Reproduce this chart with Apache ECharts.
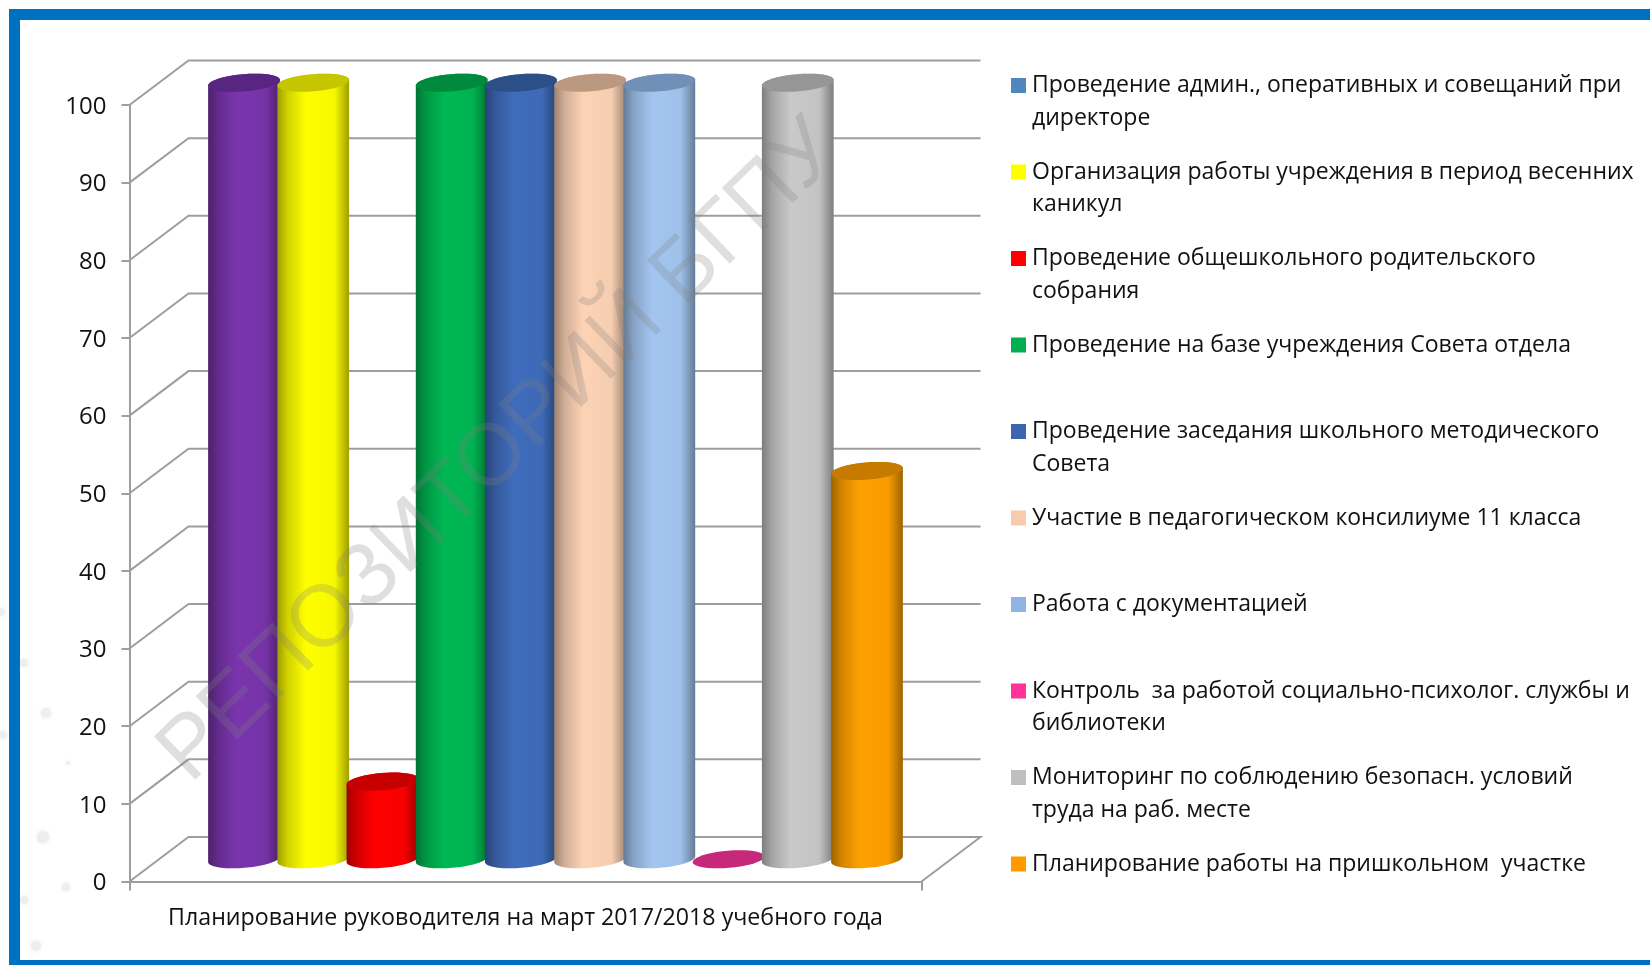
<!DOCTYPE html>
<html>
<head>
<meta charset="utf-8">
<title>Планирование руководителя</title>
<style>
  html, body { margin: 0; padding: 0; background: #fff; }
  #chart { width: 1650px; height: 965px; }
</style>
<script src="https://cdn.jsdelivr.net/npm/echarts@6/dist/echarts.min.js"></script>
</head>
<body>
<div id="chart"></div>
<script>
  const categories = ['Планирование руководителя на март 2017/2018 учебного года']
  const seriesNames = [
    'Проведение админ., оперативных и совещаний при\nдиректоре',
    'Организация работы учреждения в период весенних\nканикул',
    'Проведение общешкольного родительского\nсобрания',
    'Проведение на базе учреждения Совета отдела',
    'Проведение заседания школьного методического\nСовета',
    'Участие в педагогическом консилиуме 11 класса',
    'Работа с документацией',
    'Контроль  за работой социально-психолог. службы и\nбиблиотеки',
    'Мониторинг по соблюдению безопасн. условий\nтруда на раб. месте',
    'Планирование работы на пришкольном  участке'
  ]
  const seriesValues = [100, 100, 10, 100, 100, 100, 100, 0, 100, 50]
  const yTicks = [0, 10, 20, 30, 40, 50, 60, 70, 80, 90, 100]

  // the legend of the original does not match the bars for the first and 8th items
  const legendColors = ['#4f86bc', '#ffff00', '#ff0000', '#00b050', '#3a65b0', '#f8cbad', '#8fb4e3', '#ff3399', '#bfbfbf', '#ff9900']
  const bodyColors = ['#7a35ad', '#ffff00', '#ff0000', '#00b853', '#3f6cbc', '#fdd3b5', '#a3c6f0', '#c6287a', '#c9c9c9', '#ffa000']
  const capColors = ['#582580', '#c6c600', '#c60000', '#008a3e', '#2d4f87', '#bb9880', '#7090b8', '#c6287a', '#969696', '#c67a00']

  const FONT = '"Open Sans", sans-serif'
  const DEPTH_X = 59
  const DEPTH_Y = -44.5
  const BAR_STEP = 0.0874
  const BAR_SHIFT = 0.5
  const TILT = 4.8 * Math.PI / 180
  const LINE = '#9e9e9e'

  function shade(hex, k) {
    const n = parseInt(hex.slice(1), 16)
    const c = [n >> 16, (n >> 8) & 255, n & 255].map(v => Math.round(v * k))
    return 'rgb(' + c.join(',') + ')'
  }

  function ellipsePoints(cx, cy, rx, ry, from, to) {
    const pts = []
    const steps = 40
    for (let s = 0; s <= steps; s++) {
      const t = from + (to - from) * s / steps
      const x = rx * Math.cos(t)
      const y = ry * Math.sin(t)
      pts.push([cx + x * Math.cos(TILT) + y * Math.sin(TILT), cy - x * Math.sin(TILT) + y * Math.cos(TILT)])
    }
    return pts
  }

  function cylinder(index) {
    return function (params, api) {
      const base = api.coord([0, 0])
      const top = api.coord([0, api.value(1)])
      const band = api.size([1, 0])[0]
      const cx = base[0] + DEPTH_X / 2 + BAR_SHIFT + (index - 4.5) * band * BAR_STEP
      const rx = band * BAR_STEP * 0.52
      const ry = 8.6
      const baseY = base[1] + DEPTH_Y / 2
      const topY = top[1] + DEPTH_Y / 2
      const color = bodyColors[index]
      const children = []
      if (api.value(1) > 0) {
        children.push({
          type: 'polygon',
          shape: { points: ellipsePoints(cx, baseY, rx, ry, 0, Math.PI).concat(ellipsePoints(cx, topY, rx, ry, Math.PI, 2 * Math.PI)) },
          style: {
            fill: new echarts.graphic.LinearGradient(0, 0, 1, 0, [
              { offset: 0, color: shade(color, 0.62) },
              { offset: 0.14, color: shade(color, 0.82) },
              { offset: 0.4, color: shade(color, 1) },
              { offset: 0.8, color: shade(color, 0.97) },
              { offset: 1, color: shade(color, 0.62) }
            ])
          }
        })
      }
      children.push({
        type: 'polygon',
        shape: { points: ellipsePoints(cx, topY, rx, ry, 0, 2 * Math.PI) },
        style: { fill: capColors[index] }
      })
      return { type: 'group', children: children }
    }
  }

  function wallLine(params, api) {
    const left = params.coordSys.x
    const right = left + params.coordSys.width
    const p = api.coord([0, api.value(0)])
    const points = [[left, p[1]], [left + DEPTH_X, p[1] + DEPTH_Y], [right + DEPTH_X, p[1] + DEPTH_Y]]
    if (api.value(0) === 0) {
      points.push([right, p[1]])
    }
    return {
      type: 'polyline',
      shape: { points: points },
      style: { fill: 'none', stroke: LINE, lineWidth: 2 }
    }
  }

  const series = [{
    type: 'custom',
    silent: true,
    data: yTicks.map(t => [t]),
    encode: { y: 0 },
    renderItem: wallLine,
    z: 1
  }]
  seriesNames.forEach((name, i) => {
    series.push({
      name: name,
      type: 'custom',
      data: [[0, seriesValues[i]]],
      encode: { x: 0, y: 1 },
      renderItem: cylinder(i),
      z: 2
    })
  })

  const specks = [[46, 713, 5], [43, 837, 6], [66, 887, 4], [36, 946, 5], [24, 663, 4], [68, 763, 2], [24, 900, 4], [3, 735, 4], [1, 612, 4]]

  const chart = echarts.init(document.getElementById('chart'))
  chart.setOption({
    animation: false,
    backgroundColor: '#fff',
    grid: { left: 129.5, top: 105, width: 792, height: 776.5 },
    xAxis: {
      type: 'category',
      data: categories,
      axisLine: { lineStyle: { color: LINE, width: 2 } },
      axisTick: { show: true, length: 9, lineStyle: { color: LINE, width: 2 } },
      axisLabel: { color: '#111', fontFamily: FONT, fontSize: 23.2, margin: 25, interval: 0 }
    },
    yAxis: {
      type: 'value',
      min: 0,
      max: 100,
      interval: 10,
      splitLine: { show: false },
      axisLine: { show: true, lineStyle: { color: LINE, width: 2 } },
      axisTick: { show: true, length: 8, lineStyle: { color: LINE, width: 2 } },
      axisLabel: {
        margin: 23,
        formatter: '{tick|{value}}',
        rich: { tick: { color: '#111', fontFamily: FONT, fontSize: 24, padding: [4, 0, 0, 0] } }
      }
    },
    legend: {
      orient: 'vertical',
      left: 1011,
      top: 36.75,
      padding: 0,
      itemGap: -11,
      itemWidth: 15,
      itemHeight: 15,
      icon: 'rect',
      selectedMode: false,
      // blank first line puts the marker level with the first text line
      data: seriesNames.map((name, i) => ({ name: name, itemStyle: { color: legendColors[i] } })),
      formatter: name => '\n' + (name.indexOf('\n') < 0 ? name + '\n ' : name),
      textStyle: { color: '#111', fontFamily: FONT, fontSize: 23, lineHeight: 32.5, padding: [0, 0, 0, 1] }
    },
    graphic: {
      elements: [
        { type: 'rect', shape: { x: 9, y: 9, width: 1641, height: 11 }, style: { fill: '#0070c0' }, z: 50 },
        { type: 'rect', shape: { x: 9, y: 9, width: 11, height: 956 }, style: { fill: '#0070c0' }, z: 50 },
        { type: 'rect', shape: { x: 9, y: 960, width: 1641, height: 5 }, style: { fill: '#0070c0' }, z: 50 },
        {
          type: 'text',
          x: 500,
          y: 452,
          rotation: 44 * Math.PI / 180,
          z: 60,
          silent: true,
          style: {
            text: 'РЕПОЗИТОРИЙ БГПУ',
            fill: 'rgba(128,128,128,0.25)',
            font: '87px "Liberation Sans", sans-serif',
            textAlign: 'center',
            textVerticalAlign: 'middle'
          }
        }
      ].concat(specks.map(s => ({
        type: 'circle',
        shape: { cx: s[0], cy: s[1], r: s[2] },
        style: { fill: '#eeeeee', shadowBlur: 5, shadowColor: '#eeeeee' },
        silent: true,
        z: 0
      })))
    },
    series: series
  })
</script>
</body>
</html>
